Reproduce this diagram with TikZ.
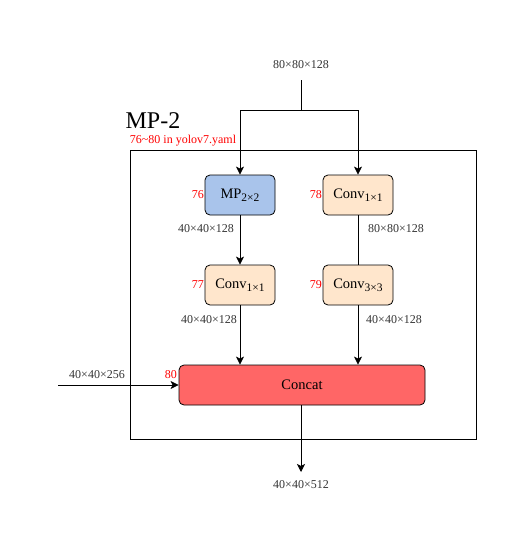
\documentclass[tikz,border=0pt]{standalone}
\usepackage{fontspec}
\setmainfont{Liberation Serif}
\usetikzlibrary{arrows.meta}
\definecolor{mpblue}{HTML}{A9C4EB}
\definecolor{convor}{HTML}{FFE6CC}
\definecolor{catred}{HTML}{FF6666}
\definecolor{numred}{HTML}{FF0000}
\definecolor{dimgray}{HTML}{333333}
\newcommand{\mysub}[1]{\raisebox{-0.45ex}{\fontsize{11.5}{12}\selectfont #1}}
\begin{document}
\begin{tikzpicture}[x=1pt,y=-1pt,
  box/.style={draw=black,line width=0.8pt,rounded corners=5pt,minimum width=70pt,minimum height=40pt,inner sep=0pt,font=\fontsize{14.5}{16}\selectfont},
  dim/.style={font=\fontsize{12}{14}\selectfont,text=dimgray,inner sep=0pt},
  num/.style={font=\fontsize{12}{14}\selectfont,text=numred,inner sep=0pt},
  conn/.style={line width=0.8pt,draw=black},
  arr/.style={conn,-{Stealth[length=8pt,width=8pt,inset=2pt]}}]
\useasboundingbox (0,0) rectangle (527,551);
\draw[line width=0.8pt] (130,150) rectangle (476,439);
\node[font=\fontsize{24}{26}\selectfont,inner sep=0pt] (title) at (153,121) {MP-2};
\node[font=\fontsize{12}{14}\selectfont,text=numred,inner sep=0pt] (yaml) at (183,141) {76\textasciitilde80 in yolov7.yaml};
\node[box,fill=mpblue] (mp) at (240,195) {MP\mysub{2×2}};
\node[box,fill=convor] (c78) at (358,195) {Conv\mysub{1×1}};
\node[box,fill=convor] (c77) at (240,285) {Conv\mysub{1×1}};
\node[box,fill=convor] (c79) at (358,285) {Conv\mysub{3×3}};
\node[box,fill=catred,minimum width=246pt] (cat) at (302,385) {Concat};
\node[num,anchor=east] (n76) at (204,195) {76};
\node[num,anchor=east] (n78) at (322,195) {78};
\node[num,anchor=east] (n77) at (204,285) {77};
\node[num,anchor=east] (n79) at (322,285) {79};
\node[num,anchor=east] (n80) at (177,375) {80};
\node[dim] (dtop) at (301,65) {80×80×128};
\node[dim] (d1) at (206,229) {40×40×128};
\node[dim] (d2) at (396,229) {80×80×128};
\node[dim] (d3) at (209,320) {40×40×128};
\node[dim] (d4) at (394,320) {40×40×128};
\node[dim] (din) at (97,375) {40×40×256};
\node[dim] (dout) at (301,485) {40×40×512};
\coordinate (top) at (301,80);
\coordinate (split) at (301,110);
\coordinate (inl) at (58,385);
\coordinate (outb) at (301,472);
\draw[conn] (top) -- (split);
\draw[arr] (split) -| (mp.north);
\draw[arr] (split) -| (c78.north);
\draw[arr] (mp) -- (c77);
\draw[conn] (c78) -- (c79);
\draw[arr] (c77.south) -- (c77.south |- cat.north);
\draw[arr] (c79.south) -- (c79.south |- cat.north);
\draw[arr] (inl) -- (inl -| cat.west);
\draw[arr] (cat.south -| outb) -- (outb);
\end{tikzpicture}
\end{document}
